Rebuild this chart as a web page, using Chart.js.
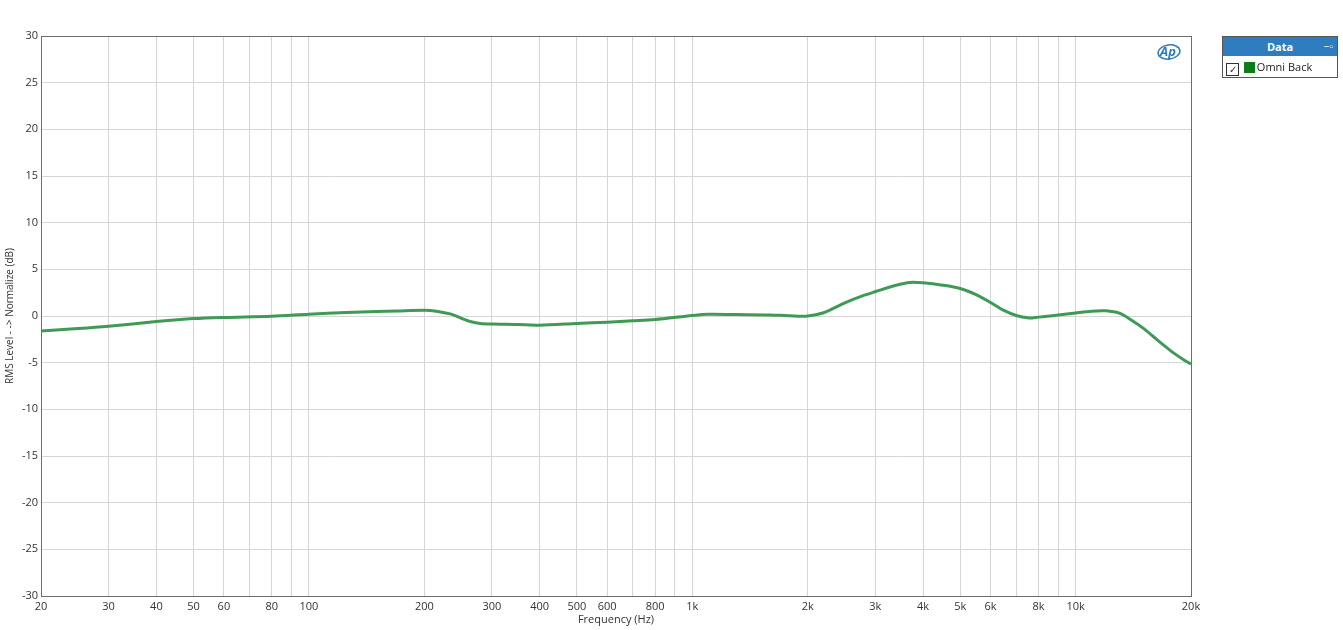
<!DOCTYPE html>
<html>
<head>
<meta charset="utf-8">
<script src="https://cdn.jsdelivr.net/npm/chart.js@4.4.0/dist/chart.umd.min.js"></script>
<style>
  body { margin: 0; background: #fff; }
  #wrap { position: relative; width: 1343px; height: 630px; }
  #legend {
    position: absolute; left: 1222px; top: 36px; width: 116px; height: 42px;
    border: 1px solid #555; box-sizing: border-box; font-family: "Open Sans", sans-serif; font-size: 11px;
  }
  #legend .head {
    background: #2f7dbe; color: #fff; font-weight: bold; text-align: center;
    height: 19px; line-height: 19px; position: relative;
  }
  #legend .pin { position: absolute; right: 4px; top: 0; font-weight: normal; font-size: 10px; }
  #legend .row { height: 21px; line-height: 21px; padding-left: 3px; color: #222; }
  #legend .chk {
    display: inline-block; width: 11px; height: 11px; border: 1px solid #333; vertical-align: -2px;
    font-size: 10px; line-height: 10px; text-align: center; color: #333;
  }
  #legend .sw { display: inline-block; width: 11px; height: 11px; background: #0b7d1b; vertical-align: -2px; margin-left: 2px; margin-right: 2px; }
</style>
</head>
<body>
<div id="wrap">
  <canvas id="myChart" width="1343" height="630"></canvas>
  <div id="legend">
    <div class="head">Data<span class="pin">&#x2212;&#x25AB;</span></div>
    <div class="row"><span class="chk">&#x2713;</span> <span class="sw"></span>Omni Back</div>
  </div>
</div>
<script>
// frequency (Hz) and level (dB)
var freqs = [20, 25, 30, 40, 50, 60, 80, 100, 125, 150, 170, 200, 215, 235, 250, 265, 280, 300, 350, 400,
             500, 600, 700, 800, 1000, 1100, 1300, 1600, 1800, 2000, 2200, 2500, 2800, 3000, 3400, 3700,
             4000, 4500, 5000, 5500, 6000, 6500, 7000, 7500, 8000, 9000, 10000, 11000, 12000, 13000,
             14000, 15000, 16000, 17000, 18000, 19000, 20000]
var omniBack = [-1.6, -1.35, -1.1, -0.6, -0.28, -0.15, -0.02, 0.2, 0.38, 0.47, 0.54, 0.62, 0.52, 0.2, -0.25, -0.62, -0.8, -0.86, -0.9, -0.98,
                -0.8, -0.66, -0.52, -0.38, 0.05, 0.18, 0.15, 0.12, 0.02, 0, 0.35, 1.4, 2.2, 2.6, 3.3, 3.6,
                3.55, 3.3, 2.95, 2.3, 1.45, 0.6, 0.05, -0.2, -0.12, 0.1, 0.33, 0.52, 0.55, 0.3,
                -0.45, -1.3, -2.25, -3.15, -3.95, -4.6, -5.15]

var gridFreqs = []
var decades = [10, 100, 1000, 10000]
for (var d = 0; d < decades.length; d++) {
    for (var m = 1; m <= 9; m++) {
        var f = decades[d] * m
        if (f >= 20 && f <= 20000) gridFreqs.push(f)
    }
}
var labelFreqs = [20, 30, 40, 50, 60, 80, 100, 200, 300, 400, 500, 600, 800, 1000,
                  2000, 3000, 4000, 5000, 6000, 8000, 10000, 20000]

var points = []
for (var i = 0; i < freqs.length; i++) points.push({ x: freqs[i], y: omniBack[i] })

var font = { family: "'Open Sans', sans-serif", size: 11 }

const framePlugin = {
    id: 'frame',
    afterDraw(chart) {
        var a = chart.chartArea, ctx = chart.ctx
        ctx.save()
        ctx.strokeStyle = '#6e6e6e'
        ctx.lineWidth = 1
        ctx.strokeRect(a.left + 0.5, a.top + 0.5, a.right - a.left, a.bottom - a.top)
        // AP logo
        ctx.strokeStyle = '#2f7dbe'
        ctx.lineWidth = 1.5
        ctx.beginPath()
        ctx.ellipse(1169, 52, 11, 7, -0.15, 0, Math.PI * 2)
        ctx.stroke()
        ctx.fillStyle = '#2f7dbe'
        ctx.font = "italic bold 13px 'Open Sans', sans-serif"
        ctx.textAlign = 'center'
        ctx.textBaseline = 'middle'
        ctx.fillText('Ap', 1168, 52)
        ctx.restore()
    }
}

new Chart(document.getElementById('myChart'), {
    type: 'line',
    data: {
        datasets: [{
            label: 'Omni Back',
            data: points,
            borderColor: '#3f9a55',
            borderWidth: 3,
            pointRadius: 0,
            tension: 0.3,
            fill: false
        }]
    },
    options: {
        responsive: false,
        animation: false,
        layout: { padding: { left: 0, right: 152, top: 36, bottom: 0 } },
        plugins: { legend: { display: false }, tooltip: { enabled: false } },
        scales: {
            x: {
                type: 'logarithmic',
                min: 20,
                max: 20000,
                afterBuildTicks(scale) {
                    scale.ticks = gridFreqs.map(function (v) { return { value: v } })
                },
                afterFit(scale) { scale.height = 34 },
                ticks: {
                    autoSkip: false,
                    maxRotation: 0,
                    color: '#333',
                    font: font,
                    padding: 4,
                    callback: function (v) {
                        if (labelFreqs.indexOf(v) < 0) return ''
                        return v >= 1000 ? (v / 1000) + 'k' : String(v)
                    }
                },
                grid: { color: '#d6d6d6', drawTicks: false },
                border: { display: false },
                title: { display: true, text: 'Frequency (Hz)', color: '#333', font: font, padding: { top: 0, bottom: 4 } }
            },
            y: {
                min: -30,
                max: 30,
                afterFit(scale) { scale.width = 41 },
                ticks: { stepSize: 5, color: '#333', font: font, padding: 3 },
                grid: { color: '#d6d6d6', drawTicks: false },
                border: { display: false },
                title: { display: true, text: 'RMS Level - -> Normalize (dB)', color: '#333', font: { family: font.family, size: 10 }, padding: { top: 4, bottom: 0 } }
            }
        }
    },
    plugins: [framePlugin]
})
</script>
</body>
</html>
